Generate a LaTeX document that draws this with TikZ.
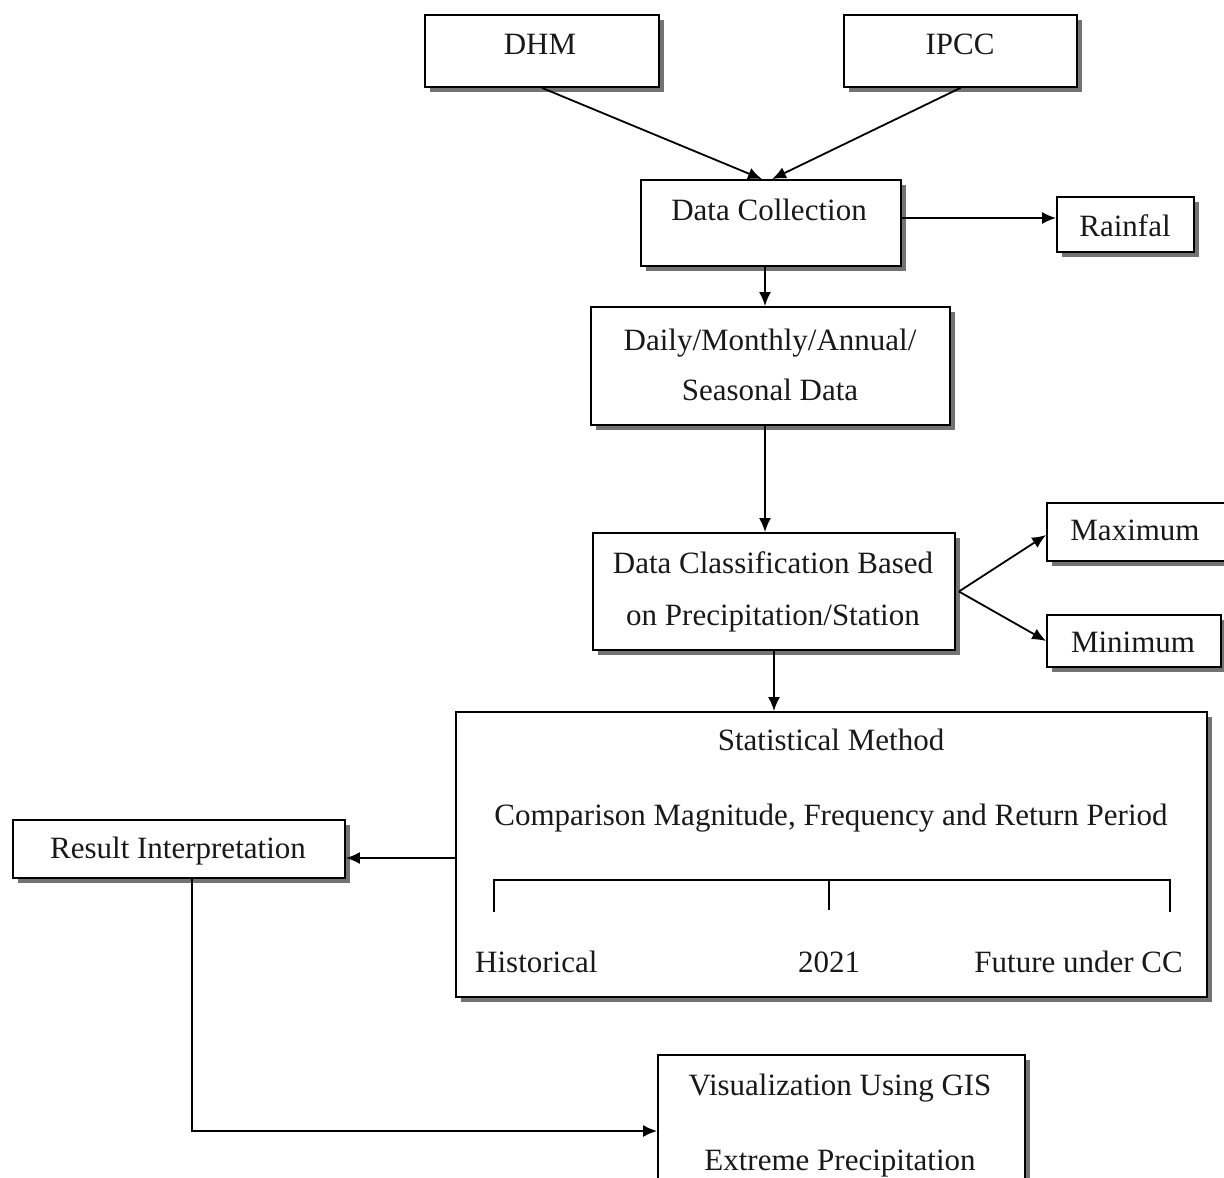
\documentclass[tikz,border=0pt]{standalone}
\usepackage{fontspec}
\setmainfont{Liberation Serif}
\usetikzlibrary{arrows.meta,shadows,calc}
\tikzset{
  box/.style={draw=black, line width=1.8pt, fill=white, rectangle, inner sep=0pt,
    drop shadow={shadow xshift=5pt, shadow yshift=-5pt, fill=black!55, opacity=1}},
  txt/.style={inner sep=0pt, text height=21pt, text depth=0pt, font=\fontsize{31}{37}\selectfont, text=black!90},
  arr/.style={line width=1.8pt, -{Latex[length=14pt,width=12pt]}},
  ln/.style={line width=1.8pt}
}
\begin{document}
\begin{tikzpicture}[x=1pt,y=-1pt]
\useasboundingbox (0,0) rectangle (1224,1178);
\clip (0,0) rectangle (1224,1178);
% boxes
\node[box, minimum width=234pt, minimum height=72pt] (dhm) at (542,51) {};
\node[box, minimum width=233pt, minimum height=72pt] (ipcc) at (960.5,51) {};
\node[box, minimum width=260pt, minimum height=86pt] (dc) at (771,223) {};
\node[box, minimum width=137pt, minimum height=55pt] (rain) at (1125.5,224.5) {};
\node[box, minimum width=359pt, minimum height=118pt] (daily) at (770.5,366) {};
\node[box, minimum width=362pt, minimum height=117pt] (cls) at (774,591.5) {};
\node[box, minimum width=185pt, minimum height=58pt] (max) at (1139.5,532) {};
\node[box, minimum width=174pt, minimum height=52pt] (min) at (1134,641) {};
\node[box, minimum width=751pt, minimum height=285pt] (stat) at (831.5,854.5) {};
\node[box, minimum width=332pt, minimum height=58pt] (res) at (179,849) {};
\node[box, minimum width=367pt, minimum height=155pt] (vis) at (841.5,1132.5) {};
% texts
\node[txt] (dhmt) at (540,44) {DHM};
\node[txt] (ipcct) at (960,44) {IPCC};
\node[txt] (dct) at (769,210) {Data Collection};
\node[txt] (raint) at (1125,226) {Rainfal};
\node[txt] (dailyt1) at (770,340) {Daily/Monthly/Annual/};
\node[txt] (dailyt2) at (770,390) {Seasonal Data};
\node[txt] (clst1) at (773,563) {Data Classification Based};
\node[txt] (clst2) at (773,615) {on Precipitation/Station};
\node[txt] (maxt) at (1135,530) {Maximum};
\node[txt] (mint) at (1133,642) {Minimum};
\node[txt] (statt1) at (831,740) {Statistical Method};
\node[txt] (statt2) at (831,815) {Comparison Magnitude, Frequency and Return Period};
\node[txt, anchor=west] (hist) at (475,962) {Historical};
\node[txt] (y2021) at (829,962) {2021};
\node[txt, anchor=east] (fut) at (1183,962) {Future under CC};
\node[txt] (rest) at (178,848) {Result Interpretation};
\node[txt] (vist1) at (840,1085) {Visualization Using GIS};
\node[txt] (vist2) at (840,1160) {Extreme Precipitation};
% bracket
\coordinate (bl) at (494,912);
\coordinate (br) at (1170,912);
\coordinate (bm) at (829,910);
\draw[ln] (bl) -- (494,880) -- (1170,880) -- (br);
\draw[ln] (829,880) -- (bm);
% connectors
\draw[arr] (dhm.south) -- ([xshift=-9pt]dc.north);
\draw[arr] (ipcc.south) -- ([xshift=1pt]dc.north);
\draw[arr] ([yshift=5pt]dc.east) -- ([yshift=5pt]dc.east -| rain.west);
\draw[arr] ([xshift=-6pt]dc.south) -- ([xshift=-6pt]dc.south |- daily.north);
\draw[arr] ([xshift=-5.5pt]daily.south) -- ([xshift=-5.5pt]daily.south |- cls.north);
\draw[arr] ([xshift=3pt]cls.east) -- ([yshift=-3pt]max.west);
\draw[arr] ([xshift=3pt]cls.east) -- (min.west);
\draw[arr] (cls.south) -- (cls.south |- stat.north);
\draw[arr] ([yshift=-3.5pt]stat.west) -- ([yshift=-3.5pt]stat.west -| res.east);
\draw[arr] ([xshift=13pt]res.south) |- ([yshift=1.5pt]vis.west);
\end{tikzpicture}
\end{document}
